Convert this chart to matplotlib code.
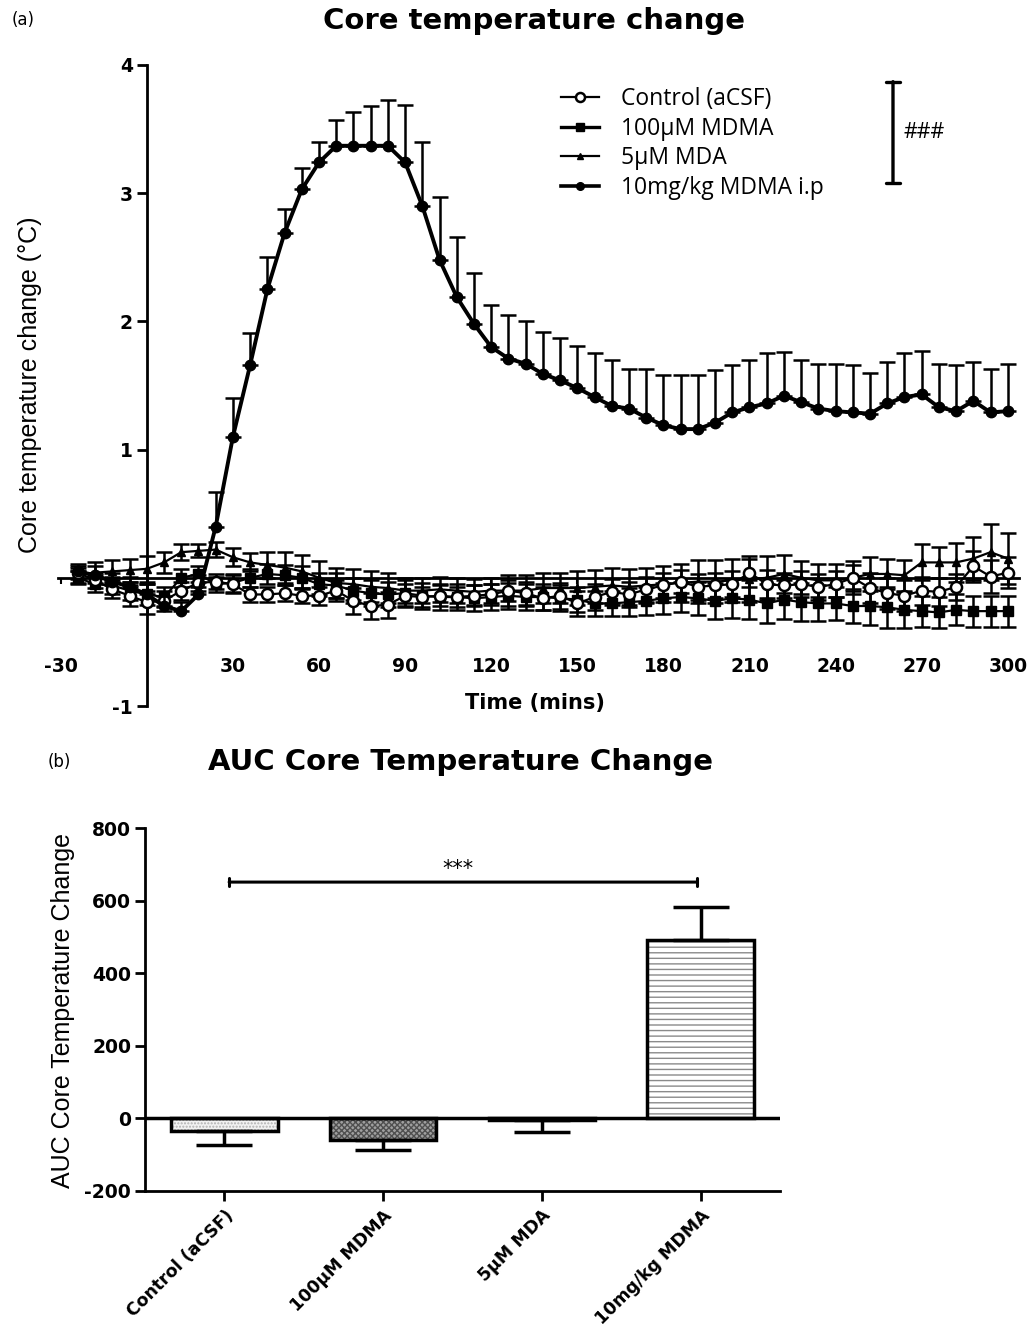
import numpy as np
import matplotlib
matplotlib.use("Agg")
import matplotlib.pyplot as plt
from matplotlib.lines import Line2D

plt.rcParams['font.family'] = ['DejaVu Sans']
plt.rcParams['hatch.linewidth'] = 1.0

# ---------------- data ----------------
time_min = list(range(-24, 301, 6))

ip_mean = [0.05, 0.02, -0.03, -0.07, -0.13, -0.22, -0.26, -0.13, 0.40, 1.10,
           1.66, 2.25, 2.69, 3.03, 3.24, 3.37, 3.37, 3.37, 3.37, 3.24,
           2.90, 2.48, 2.19, 1.98, 1.80, 1.71, 1.67, 1.59, 1.54, 1.48,
           1.41, 1.34, 1.32, 1.25, 1.19, 1.16, 1.16, 1.21, 1.29, 1.33,
           1.36, 1.42, 1.37, 1.32, 1.30, 1.29, 1.28, 1.36, 1.41, 1.43,
           1.33, 1.30, 1.38, 1.29, 1.30]
ip_sem = [0.06, 0.07, 0.07, 0.08, 0.08, 0.08, 0.07, 0.06, 0.27, 0.30,
          0.25, 0.25, 0.19, 0.17, 0.16, 0.20, 0.26, 0.31, 0.36, 0.45,
          0.50, 0.49, 0.47, 0.40, 0.33, 0.34, 0.33, 0.33, 0.33, 0.33,
          0.34, 0.36, 0.31, 0.38, 0.39, 0.42, 0.42, 0.41, 0.37, 0.37,
          0.39, 0.34, 0.33, 0.35, 0.37, 0.37, 0.32, 0.32, 0.34, 0.34,
          0.34, 0.36, 0.30, 0.34, 0.37]

ctrl_mean = [0.04, -0.02, -0.09, -0.14, -0.19, -0.18, -0.10, -0.04, -0.03, -0.05,
             -0.13, -0.13, -0.12, -0.14, -0.14, -0.10, -0.18, -0.22, -0.21, -0.14,
             -0.15, -0.14, -0.15, -0.14, -0.13, -0.10, -0.12, -0.16, -0.14, -0.20,
             -0.15, -0.11, -0.13, -0.09, -0.06, -0.03, -0.07, -0.06, -0.05, 0.04,
             -0.05, -0.06, -0.05, -0.07, -0.05, 0.00, -0.08, -0.12, -0.14, -0.10,
             -0.11, -0.07, 0.09, 0.01, 0.04]
ctrl_sem = [0.05, 0.06, 0.07, 0.08, 0.09, 0.08, 0.07, 0.06, 0.06, 0.07,
            0.06, 0.06, 0.06, 0.06, 0.07, 0.08, 0.10, 0.10, 0.10, 0.09,
            0.08, 0.08, 0.08, 0.08, 0.08, 0.08, 0.09, 0.09, 0.10, 0.10,
            0.10, 0.10, 0.10, 0.10, 0.10, 0.09, 0.10, 0.10, 0.10, 0.11,
            0.11, 0.10, 0.10, 0.10, 0.10, 0.10, 0.12, 0.12, 0.12, 0.11,
            0.11, 0.10, 0.12, 0.13, 0.12]

mdma_mean = [0.00, -0.05, -0.06, -0.10, -0.13, -0.15, 0.00, 0.03, -0.05, -0.04,
             0.00, 0.03, 0.02, 0.00, -0.05, -0.06, -0.10, -0.12, -0.13, -0.12,
             -0.14, -0.15, -0.15, -0.16, -0.15, -0.14, -0.15, -0.15, -0.16, -0.17,
             -0.20, -0.20, -0.19, -0.18, -0.16, -0.15, -0.16, -0.18, -0.16, -0.17,
             -0.20, -0.17, -0.19, -0.20, -0.20, -0.22, -0.22, -0.23, -0.25, -0.26,
             -0.27, -0.25, -0.26, -0.26, -0.26]
mdma_sem = [0.05, 0.06, 0.07, 0.07, 0.08, 0.08, 0.07, 0.06, 0.06, 0.07,
            0.07, 0.08, 0.08, 0.09, 0.09, 0.10, 0.10, 0.10, 0.10, 0.10,
            0.10, 0.10, 0.10, 0.10, 0.10, 0.10, 0.10, 0.10, 0.10, 0.10,
            0.10, 0.10, 0.11, 0.11, 0.12, 0.12, 0.13, 0.14, 0.15, 0.15,
            0.15, 0.15, 0.15, 0.14, 0.13, 0.13, 0.15, 0.16, 0.14, 0.12,
            0.12, 0.12, 0.12, 0.12, 0.12]

mda_mean = [0.02, 0.04, 0.05, 0.06, 0.07, 0.12, 0.20, 0.21, 0.22, 0.16,
            0.12, 0.10, 0.08, 0.05, 0.00, -0.04, -0.05, -0.07, -0.08, -0.10,
            -0.10, -0.09, -0.10, -0.11, -0.10, -0.10, -0.10, -0.08, -0.08, -0.08,
            -0.07, -0.06, -0.07, -0.06, -0.05, -0.04, -0.03, -0.03, -0.02, -0.01,
            0.00, 0.03, 0.00, -0.02, -0.02, 0.00, 0.03, 0.03, 0.02, 0.12,
            0.12, 0.12, 0.15, 0.20, 0.15]
mda_sem = [0.06, 0.08, 0.09, 0.09, 0.10, 0.08, 0.06, 0.05, 0.06, 0.07,
           0.07, 0.10, 0.12, 0.13, 0.13, 0.12, 0.12, 0.12, 0.12, 0.10,
           0.10, 0.10, 0.10, 0.10, 0.10, 0.12, 0.12, 0.12, 0.12, 0.13,
           0.13, 0.14, 0.14, 0.14, 0.14, 0.15, 0.17, 0.17, 0.17, 0.18,
           0.17, 0.15, 0.13, 0.13, 0.13, 0.13, 0.13, 0.12, 0.12, 0.14,
           0.12, 0.15, 0.17, 0.22, 0.20]

legend_labels = ["Control (aCSF)", "100\u03bcM MDMA", "5\u03bcM MDA", "10mg/kg MDMA i.p"]
time_ticks = [-30, 30, 60, 90, 120, 150, 180, 210, 240, 270, 300]
temp_ticks = [-1, 1, 2, 3, 4]

auc_groups = ["Control (aCSF)", "100\u03bcM MDMA", "5\u03bcM MDA", "10mg/kg MDMA"]
auc_mean = [-35, -60, -5, 492]
auc_err_low = [37, 27, 33, 0]
auc_err_high = [0, 0, 0, 90]
auc_ticks = [-200, 0, 200, 400, 600, 800]

# ---------------- figure ----------------
W, H = 1034, 1329
fig = plt.figure(figsize=(W / 100, H / 100), dpi=100)

def fx(px):
    return px / W

def fy(py):
    return 1 - py / H

TICKFONT = dict(fontweight='bold', fontsize=13.5, family='DejaVu Sans')
LEGFAM = ['Open Sans', 'DejaVu Sans']
NARROW = ['Liberation Sans', 'DejaVu Sans']

# ---- panel (a) ----
axL, axR, axT, axB = 55, 1025, 65, 706
ax = fig.add_axes([fx(axL), fy(axB), fx(axR - axL), (axB - axT) / H])
ax.set_xlim(-32, 306)
ax.set_ylim(-1, 4)

t = np.array(time_min)
ebkw = dict(color='black', capsize=5.5, capthick=1.8, elinewidth=1.8)
ax.errorbar(t, mdma_mean, yerr=mdma_sem, fmt='-s', ms=6.5, mfc='black', mec='black', lw=1.6, **ebkw, zorder=3)
ax.errorbar(t, mda_mean, yerr=mda_sem, fmt='-^', ms=5.5, mfc='black', mec='black', lw=1.6, **ebkw, zorder=3)
ax.errorbar(t, ctrl_mean, yerr=ctrl_sem, fmt='-o', ms=8, mfc='white', mec='black', mew=1.8, lw=1.6, **ebkw, zorder=4)
ax.errorbar(t, ip_mean, yerr=[np.zeros(len(ip_sem)), ip_sem], fmt='-o', ms=7.5, mfc='black', mec='black',
            lw=2.8, **ebkw, zorder=5)

for s in ['top', 'right']:
    ax.spines[s].set_visible(False)
ax.spines['left'].set_position(('data', 0))
ax.spines['bottom'].set_position(('data', 0))
ax.spines['bottom'].set_bounds(-31, 304)
ax.spines['left'].set_linewidth(2)
ax.spines['bottom'].set_linewidth(2)
ax.set_xticks(time_ticks)
ax.set_xticklabels([str(v) for v in time_ticks], **TICKFONT)
ax.set_yticks(temp_ticks)
ax.set_yticklabels([str(v) for v in temp_ticks], **TICKFONT)
ax.tick_params(axis='x', length=4, width=1.5, pad=53)
ax.tick_params(axis='y', length=7, width=2, pad=3)

# significance bracket ###
ax.annotate('', xy=(260, 3.08), xytext=(260, 3.87),
            arrowprops=dict(arrowstyle='|-|, widthA=0.5, widthB=0.5', lw=2.4, color='black',
                            shrinkA=0, shrinkB=0))
ax.text(263.5, 3.47, '###', fontsize=15.5, family=LEGFAM, va='center', ha='left')

# legend
handles = [
    Line2D([], [], color='black', lw=1.6, marker='o', ms=6.5, mfc='white', mec='black', mew=1.8),
    Line2D([], [], color='black', lw=2.4, marker='s', ms=5.5, mfc='black'),
    Line2D([], [], color='black', lw=1.6, marker='^', ms=5, mfc='black'),
    Line2D([], [], color='black', lw=2.6, marker='o', ms=5.5, mfc='black'),
]
fig.legend(handles, legend_labels, loc='upper left', bbox_to_anchor=(fx(561), fy(87)),
           frameon=False, prop={'family': LEGFAM, 'size': 16.5},
           handlelength=1.66, handletextpad=0.95, labelspacing=0.25, borderpad=0, borderaxespad=0)

fig.text(fx(12), fy(20), '(a)', fontsize=12, va='center', ha='left')
fig.text(fx(534), fy(21), 'Core temperature change', fontsize=21, fontweight='bold', ha='center', va='center')
fig.text(fx(535), fy(703), 'Time (mins)', fontsize=15, fontweight='bold', ha='center', va='center')
fig.text(fx(30), fy(385), 'Core temperature change (\u00b0C)', fontsize=18, rotation=90,
         ha='center', va='center', family=NARROW)

# ---- panel (b) ----
bL, bR, bT, bB = 145, 780, 828, 1191
bx = fig.add_axes([fx(bL), fy(bB), fx(bR - bL), (bB - bT) / H])
bx.set_xlim(-0.5, 3.5)
bx.set_ylim(-200, 800)
xpos = np.arange(len(auc_groups))
faces = ['#f2f2f2', '#a0a0a0', 'white', 'white']
hatches = ['.....', 'xxxxxx', '', '---']
hcolors = ['#b0b0b0', '#505050', 'white', '#8a8a8a']
for i in range(len(auc_groups)):
    bx.bar(xpos[i], auc_mean[i], width=0.67, color=faces[i], hatch=hatches[i],
           edgecolor=hcolors[i], linewidth=0, zorder=2)
bx.bar(xpos, auc_mean, width=0.67, fill=False, edgecolor='black', linewidth=2.5, zorder=3)
bx.errorbar(xpos, auc_mean, yerr=[auc_err_low, auc_err_high], fmt='none', ecolor='black',
            elinewidth=2.5, capsize=20, capthick=2.5, zorder=4)
bx.axhline(0, color='black', lw=2.5, zorder=5)

for s in ['top', 'right']:
    bx.spines[s].set_visible(False)
bx.spines['left'].set_linewidth(2)
bx.spines['bottom'].set_linewidth(2)
bx.set_yticks(auc_ticks)
bx.set_yticklabels([str(v) for v in auc_ticks], **TICKFONT)
bx.set_xticks(xpos)
bx.set_xticklabels(auc_groups, fontweight='bold', fontsize=12.5, rotation=45, ha='right',
                   rotation_mode='anchor', family='DejaVu Sans')
bx.tick_params(axis='y', length=7, width=2, pad=3)
bx.tick_params(axis='x', length=7, width=2, pad=4)

# *** bracket
bx.annotate('', xy=(0.03, 651), xytext=(2.98, 651),
            arrowprops=dict(arrowstyle='|-|, widthA=0.3, widthB=0.3', lw=2.2, color='black',
                            shrinkA=0, shrinkB=0))
bx.text(1.47, 660, '***', fontsize=15, ha='center', va='bottom')

fig.text(fx(48), fy(762), '(b)', fontsize=12, va='center', ha='left')
fig.text(fx(460), fy(762), 'AUC Core Temperature Change', fontsize=21, fontweight='bold', ha='center', va='center')
fig.text(fx(63), fy(1010), 'AUC Core Temperature Change', fontsize=18, rotation=90,
         ha='center', va='center', family=NARROW)

fig.savefig('out.png', dpi=100)
